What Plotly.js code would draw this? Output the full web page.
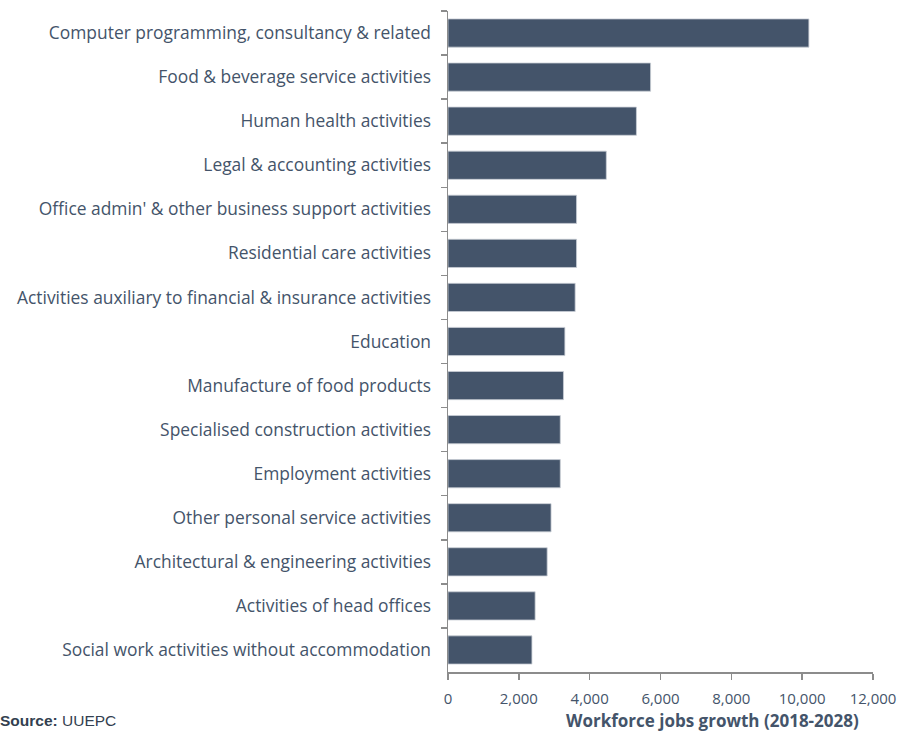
<!DOCTYPE html>
<html>
<head>
<meta charset="utf-8">
<script src="https://cdn.plot.ly/plotly-3.0.1.min.js"></script>
<style>html,body{margin:0;padding:0;background:#fff;}#chart{width:904px;height:733px;}</style>
</head>
<body>
<div id="chart"></div>
<script>
const categories = [
  "Computer programming, consultancy & related",
  "Food & beverage service activities",
  "Human health activities",
  "Legal & accounting activities",
  "Office admin' & other business support activities",
  "Residential care activities",
  "Activities auxiliary to financial & insurance activities",
  "Education",
  "Manufacture of food products",
  "Specialised construction activities",
  "Employment activities",
  "Other personal service activities",
  "Architectural & engineering activities",
  "Activities of head offices",
  "Social work activities without accommodation"
];
const jobsGrowth = [10190, 5720, 5320, 4470, 3630, 3630, 3590, 3300, 3260, 3170, 3170, 2910, 2800, 2460, 2370];
const xTickValues = [0, 2000, 4000, 6000, 8000, 10000, 12000];
const xTickLabels = ["0", "2,000", "4,000", "6,000", "8,000", "10,000", "12,000"];
const xTitle = "Workforce jobs growth (2018-2028)";
const sourceText = "<b>Source:</b> UUEPC";

const textColor = "#44546A";
const axisColor = "#8C8C8C";

const trace = {
  type: "bar",
  orientation: "h",
  x: jobsGrowth,
  y: categories,
  marker: { color: "#44546A", line: { color: "#C9CED6", width: 0.8 } },
  width: 0.64,
  hoverinfo: "x+y"
};

const layout = {
  width: 904,
  height: 733,
  margin: { l: 448, r: 31, t: 11, b: 61 },
  paper_bgcolor: "#fff",
  plot_bgcolor: "#fff",
  showlegend: false,
  font: { family: "'Open Sans', sans-serif", size: 16, color: textColor },
  xaxis: {
    range: [0, 12000],
    tickvals: xTickValues,
    ticktext: xTickLabels,
    showgrid: false,
    zeroline: false,
    showline: true,
    linecolor: axisColor,
    linewidth: 1.5,
    ticks: "outside",
    ticklen: 6,
    tickcolor: axisColor,
    tickwidth: 1.5,
    ticklabelstandoff: 6,
    tickfont: { size: 15, color: textColor },
    fixedrange: true
  },
  yaxis: {
    type: "category",
    autorange: "reversed",
    showgrid: false,
    zeroline: false,
    showline: true,
    linecolor: axisColor,
    linewidth: 1.5,
    ticks: "outside",
    tickson: "boundaries",
    ticklen: 6,
    tickcolor: axisColor,
    tickwidth: 1.5,
    ticklabelstandoff: 12,
    tickfont: { size: 17.4, color: textColor },
    fixedrange: true
  },
  annotations: [
    {
      text: "<b>" + xTitle + "</b>",
      xref: "paper", yref: "paper",
      x: 712, y: 0, xanchor: "center", yanchor: "middle",
      showarrow: false,
      font: { size: 17, color: textColor }
    },
    {
      text: sourceText,
      xref: "paper", yref: "paper",
      x: 0, y: 0, xanchor: "left", yanchor: "middle",
      showarrow: false,
      font: { size: 15.5, color: "#333F50", family: "'Liberation Sans Narrow', 'Liberation Sans', sans-serif" }
    }
  ]
};
// convert pixel placement of the annotations to paper coordinates
const plotW = layout.width - layout.margin.l - layout.margin.r;
const plotH = layout.height - layout.margin.t - layout.margin.b;
layout.annotations[0].x = (712 - layout.margin.l) / plotW;
layout.annotations[0].y = -(720 - (layout.height - layout.margin.b)) / plotH;
layout.annotations[1].x = (-2 - layout.margin.l) / plotW;
layout.annotations[1].y = -(720 - (layout.height - layout.margin.b)) / plotH;

Plotly.newPlot("chart", [trace], layout, { displayModeBar: false, staticPlot: true });
</script>
</body>
</html>
